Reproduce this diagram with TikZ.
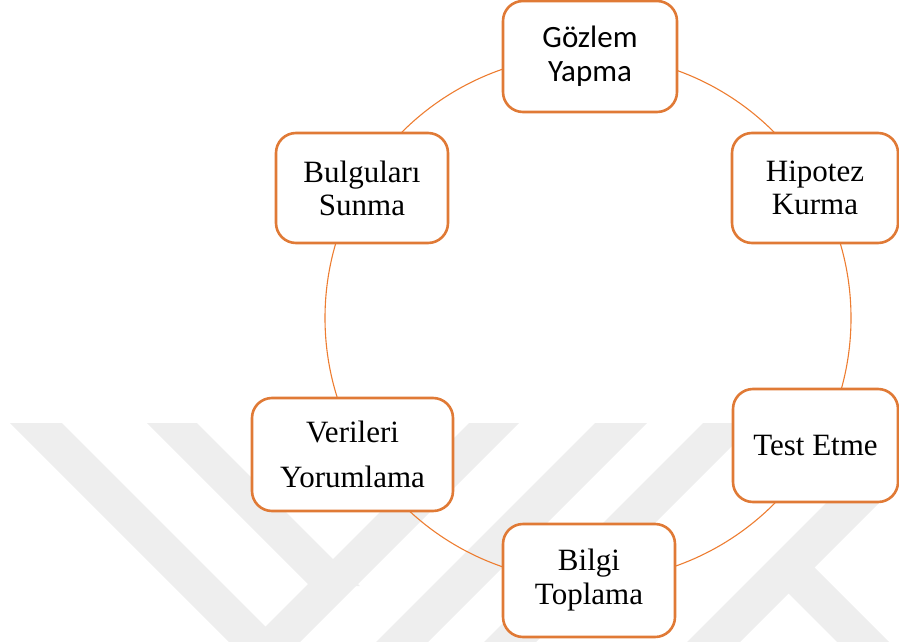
\documentclass[tikz,border=0pt]{standalone}
\usepackage{fontspec}
\setmainfont{Liberation Serif}
\newfontfamily\calib{Carlito}
\definecolor{boxc}{HTML}{E07A36}
\definecolor{ringc}{HTML}{ED7D31}
\definecolor{wm}{HTML}{EEEEEE}
\begin{document}
\begin{tikzpicture}[x=1pt,y=-1pt,
  stepbox/.style={draw=boxc, line width=2.6pt, rounded corners=20pt, fill=white,
    align=center, inner sep=0pt, font=\fontsize{31}{33}\selectfont},
  ring/.style={draw=ringc, line width=1.1pt},
  wmark/.style={fill=wm, draw=none}]
\useasboundingbox (0,0) rectangle (899,642);
% faint watermark
\begin{scope}
\clip (0,0) rectangle (899,642);
% bands going down-right
\fill[wmark] (10,423) -- (62,423) -- (312,673) -- (260,673) -- cycle;
\fill[wmark] (147,423) -- (197,423) -- (360,586) -- (310,586) -- cycle;
% bands going down-left
\fill[wmark] (469,423) -- (519,423) -- (219,723) -- (169,723) -- cycle;
\fill[wmark] (595,423) -- (647,423) -- (397,673) -- (345,673) -- cycle;
\fill[wmark] (703,423) -- (755,423) -- (505,673) -- (453,673) -- cycle;
\fill[wmark] (687,642) -- (740,642) -- (1040,342) -- (987,342) -- cycle;
\fill[wmark] (775,580) -- (800,553) -- (889,642) -- (837,642) -- cycle;
\end{scope}
% ring
\coordinate (c) at (588,318);
\draw[ring] (c) circle[radius=263pt];
% nodes
\node[stepbox, minimum width=174pt, minimum height=111pt, font=\calib\fontsize{31}{34}\selectfont]
  (g) at (590,56.5) {Gözlem\\Yapma};
\node[stepbox, minimum width=166pt, minimum height=110pt] (h) at (815,188) {Hipotez\\Kurma};
\node[stepbox, minimum width=165pt, minimum height=113pt] (t) at (815.5,445.5) {Test Etme};
\node[stepbox, minimum width=172pt, minimum height=113pt, font=\fontsize{31}{34}\selectfont]
  (b) at (589,580.5) {Bilgi\\Toplama};
\node[stepbox, minimum width=201pt, minimum height=113pt] (v) at (352.5,454.5) {Verileri\\[12pt]Yorumlama};
\node[stepbox, minimum width=172pt, minimum height=110pt] (s) at (362,188) {Bulguları\\Sunma};
\end{tikzpicture}
\end{document}
